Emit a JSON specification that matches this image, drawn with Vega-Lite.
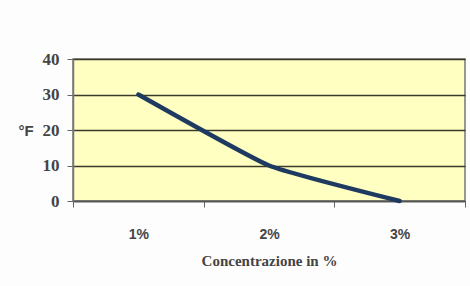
{
  "$schema": "https://vega.github.io/schema/vega-lite/v6.json",
  "width": 392,
  "height": 142,
  "autosize": "none",
  "padding": {"left": 73, "top": 59, "right": 5, "bottom": 85},
  "background": "#fdfdfd",
  "config": {
    "view": {"fill": "#ffffc2", "stroke": "#777777", "strokeWidth": 1.5}
  },
  "data": {
    "values": [
      {"conc": "1%", "F": 30},
      {"conc": "2%", "F": 10},
      {"conc": "3%", "F": 0}
    ]
  },
  "mark": {"type": "line", "interpolate": "cardinal", "tension": 0.6, "color": "#1f3a60", "strokeWidth": 4.5, "strokeCap": "round"},
  "encoding": {
    "x": {
      "field": "conc",
      "type": "ordinal",
      "sort": null,
      "scale": {"type": "band", "paddingInner": 0, "paddingOuter": 0},
      "axis": {
        "title": "Concentrazione in %",
        "titleFont": "Liberation Serif",
        "titleFontSize": 15,
        "titleFontWeight": "bold",
        "titleColor": "#444444",
        "titlePadding": 12,
        "labelAngle": 0,
        "labelFont": "Liberation Sans",
        "labelFontSize": 14,
        "labelFontWeight": "bold",
        "labelColor": "#444444",
        "labelPadding": 20,
        "tickBand": "extent",
        "tickSize": 6,
        "tickColor": "#666666",
        "domainColor": "#555555",
        "domainWidth": 1.5,
        "grid": false
      }
    },
    "y": {
      "field": "F",
      "type": "quantitative",
      "scale": {"domain": [0, 40], "nice": false},
      "axis": {
        "values": [0, 10, 20, 30, 40],
        "title": "°F",
        "titleAngle": 0,
        "titleAlign": "left",
        "titleBaseline": "middle",
        "titleX": -55,
        "titleY": 71,
        "titleFont": "Liberation Sans",
        "titleFontSize": 15,
        "titleFontWeight": "bold",
        "titleColor": "#444444",
        "labelFont": "Liberation Serif",
        "labelFontSize": 17,
        "labelFontWeight": "bold",
        "labelColor": "#444444",
        "labelPadding": 8,
        "tickSize": 6,
        "tickColor": "#666666",
        "domainColor": "#777777",
        "domainWidth": 1.5,
        "grid": true,
        "gridColor": "#3a3a2a",
        "gridWidth": 1.5
      }
    }
  }
}
